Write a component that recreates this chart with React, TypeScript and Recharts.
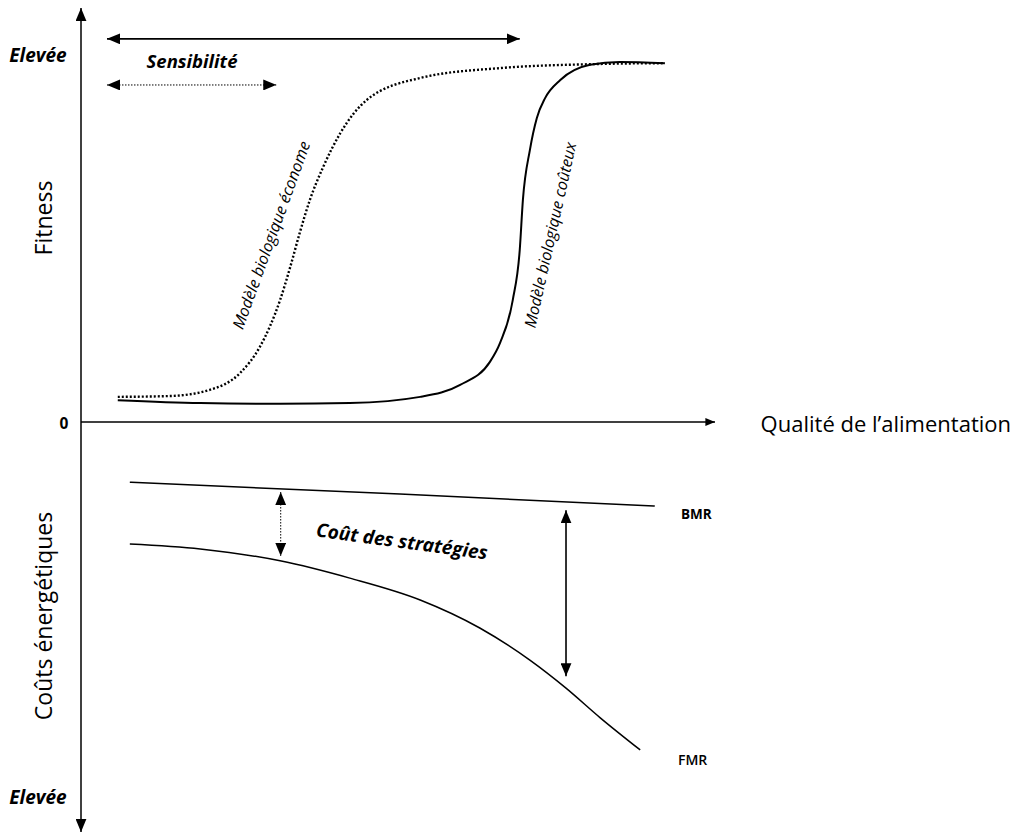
import { LineChart, Line, XAxis, YAxis, ReferenceLine } from 'recharts';

// qualité de l'alimentation (0-100) vs fitness (0-100) / coûts (négatif)
const economeQ = [5.8, 14.0, 20.3, 25.1, 28.2, 31.4, 33.0, 34.5, 36.1, 38.2, 40.9, 45.1, 53.5, 66.1, 81.9, 92.1];
const economeV = [6.1, 6.3, 7.8, 11.9, 18.2, 29.6, 37.6, 45.9, 53.9, 61.9, 70.1, 78.2, 83.5, 85.9, 86.9, 87.1];

const couteuxQ = [5.8, 18.8, 31.4, 42.4, 53.5, 59.8, 64.5, 66.1, 68.1, 69.2, 69.7, 70.8, 71.9, 73.2, 75.6, 80.3, 85.0, 92.1];
const couteuxV = [5.3, 4.6, 4.4, 4.6, 6.1, 9.0, 14.6, 19.2, 29.6, 41.7, 53.9, 66.0, 73.8, 78.6, 83.0, 86.7, 87.4, 87.1];

const bmrQ = [7.7, 50.3, 90.5];
const bmrV = [-14.6, -17.5, -20.4];

const fmrQ = [7.7, 18.8, 31.4, 42.4, 53.5, 62.9, 70.8, 76.5, 81.9, 88.2];
const fmrV = [-29.6, -30.8, -33.7, -37.9, -43.2, -50.0, -57.8, -64.6, -71.8, -79.6];

// flèches : [q1, v1, q2, v2]
const arrowTop = [4.1, 93.0, 69.2, 93.0];
const arrowSensib = [4.1, 81.8, 30.8, 81.8];
const arrowCoutDot = [31.5, -17.0, 31.5, -32.5];
const arrowCoutSolid = [76.5, -21.4, 76.5, -61.7];

const toRows = (q: number[], v: number[]) => q.map((x, i) => ({ q: x, v: v[i] }));

const econome = toRows(economeQ, economeV);
const couteux = toRows(couteuxQ, couteuxV);
const bmr = toRows(bmrQ, bmrV);
const fmr = toRows(fmrQ, fmrV);

const FONT = "'Open Sans', sans-serif";

function seg(a: number[]) {
    return [{ x: a[0], y: a[1] }, { x: a[2], y: a[3] }] as any;
}

export default function App() {
    return (
        <div style={{ position: 'absolute', left: 0, top: 0, width: 1016, height: 834, background: '#fff' }}>
            <svg width={0} height={0} style={{ position: 'absolute' }}>
                <defs>
                    <marker id="ah" viewBox="0 0 12 10" refX={12} refY={5} markerWidth={13} markerHeight={11}
                        markerUnits="userSpaceOnUse" orient="auto-start-reverse">
                        <path d="M0,0 L12,5 L0,10 z" fill="#000" />
                    </marker>
                    <marker id="ahs" viewBox="0 0 12 10" refX={12} refY={5} markerWidth={11} markerHeight={8}
                        markerUnits="userSpaceOnUse" orient="auto-start-reverse">
                        <path d="M0,0 L12,5 L0,10 z" fill="#000" />
                    </marker>
                </defs>
            </svg>
            <LineChart width={1016} height={834} margin={{ top: 10, right: 301, bottom: 0, left: 81 }}>
                <XAxis type="number" dataKey="q" domain={[0, 100]} hide allowDataOverflow />
                <YAxis type="number" domain={[-100, 100]} hide allowDataOverflow />

                {/* axes */}
                <ReferenceLine segment={seg([0, -99.5, 0, 100.5])} stroke="#000" strokeWidth={1.5}
                    ifOverflow="visible" markerStart="url(#ah)" markerEnd="url(#ah)" />
                <ReferenceLine segment={seg([0, 0, 100, 0])} stroke="#000" strokeWidth={1.3}
                    ifOverflow="visible" markerEnd="url(#ahs)" />

                {/* flèches */}
                <ReferenceLine segment={seg(arrowTop)} stroke="#000" strokeWidth={1.6}
                    ifOverflow="visible" markerStart="url(#ah)" markerEnd="url(#ah)" />
                <ReferenceLine segment={seg(arrowSensib)} stroke="#000" strokeWidth={1} strokeDasharray="1.5 1.5"
                    ifOverflow="visible" markerStart="url(#ah)" markerEnd="url(#ah)" />
                <ReferenceLine segment={seg(arrowCoutDot)} stroke="#000" strokeWidth={1} strokeDasharray="1.5 1.5"
                    ifOverflow="visible" markerStart="url(#ah)" markerEnd="url(#ah)" />
                <ReferenceLine segment={seg(arrowCoutSolid)} stroke="#000" strokeWidth={1.6}
                    ifOverflow="visible" markerStart="url(#ah)" markerEnd="url(#ah)" />

                <Line data={econome} dataKey="v" type="monotone" stroke="#000" strokeWidth={2.4}
                    strokeDasharray="2 2" dot={false} isAnimationActive={false} />
                <Line data={couteux} dataKey="v" type="monotone" stroke="#000" strokeWidth={2}
                    dot={false} isAnimationActive={false} />
                <Line data={bmr} dataKey="v" type="monotone" stroke="#000" strokeWidth={1.5}
                    dot={false} isAnimationActive={false} />
                <Line data={fmr} dataKey="v" type="monotone" stroke="#000" strokeWidth={1.5}
                    dot={false} isAnimationActive={false} />
            </LineChart>

            <svg width={1016} height={834} style={{ position: 'absolute', left: 0, top: 0, pointerEvents: 'none' }}
                fontFamily={FONT} fill="#000">
                <text x={38} y={55} textAnchor="middle" dominantBaseline="central" fontSize={19}
                    fontWeight="bold" fontStyle="italic">Elevée</text>
                <text x={38} y={797} textAnchor="middle" dominantBaseline="central" fontSize={19}
                    fontWeight="bold" fontStyle="italic">Elevée</text>
                <text x={64} y={423} textAnchor="middle" dominantBaseline="central" fontSize={15.5}
                    fontWeight="bold">0</text>
                <text x={192} y={60} textAnchor="middle" dominantBaseline="central" fontSize={18.5}
                    fontWeight="bold" fontStyle="italic">Sensibilité</text>
                <text transform="translate(43,218) rotate(-90)" textAnchor="middle" dominantBaseline="central"
                    fontSize={23}>Fitness</text>
                <text transform="translate(43,616) rotate(-90)" textAnchor="middle" dominantBaseline="central"
                    fontSize={23}>Coûts énergétiques</text>
                <text x={1011} y={423} textAnchor="end" dominantBaseline="central" fontSize={22}>
                    Qualité de l’alimentation</text>
                <text transform="translate(271,235) rotate(-70)" textAnchor="middle" dominantBaseline="central"
                    fontSize={16} fontStyle="italic">Modèle biologique économe</text>
                <text transform="translate(550,235) rotate(-77.4)" textAnchor="middle" dominantBaseline="central"
                    fontSize={16} fontStyle="italic">Modèle biologique coûteux</text>
                <text transform="translate(402,541) rotate(7.7)" textAnchor="middle" dominantBaseline="central"
                    fontSize={19} fontWeight="bold" fontStyle="italic">Coût des stratégies</text>
                <text x={681} y={514} dominantBaseline="central" fontSize={13.5} fontWeight="bold">BMR</text>
                <text x={678} y={759} dominantBaseline="central" fontSize={14} fontWeight={600}>FMR</text>
            </svg>
        </div>
    );
}
